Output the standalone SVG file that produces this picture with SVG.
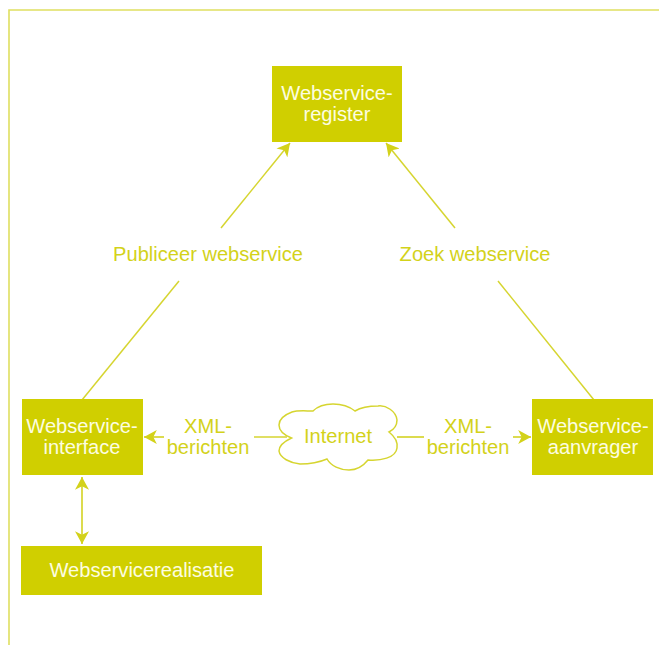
<svg xmlns="http://www.w3.org/2000/svg" width="659" height="645" viewBox="0 0 659 645">
<style>
.box{fill:#d0cf00}
.t{font-family:"Liberation Sans",Arial,sans-serif;font-size:20.1px;text-anchor:middle}
.w{fill:#fdfde0}
.y{fill:#d3d21a}
.c{stroke:#d6d530;stroke-width:1.7;fill:none}
.d{stroke:#d6d530;stroke-width:1.5;fill:none}
</style>
<defs>
<marker id="a" markerUnits="userSpaceOnUse" markerWidth="14" markerHeight="14" refX="11" refY="6" orient="auto-start-reverse" viewBox="0 0 12 12"><path d="M0 0L11 6L0 12L3 6Z" fill="#d3d21a"/></marker>
</defs>
<rect width="659" height="645" fill="#fff"/>
<path d="M9 645V10H659" fill="none" stroke="#dfdf60" stroke-width="1.6"/>
<g id="connectors">
<path class="d" d="M221 228L290 143" marker-end="url(#a)"/>
<path class="d" d="M179 281L82 400"/>
<path class="d" d="M455 228L386 143" marker-end="url(#a)"/>
<path class="d" d="M498 281L594 400"/>
<path class="c" d="M164 437H144" marker-end="url(#a)"/>
<path class="c" d="M254 437H287"/>
<path class="c" d="M397 437H424"/>
<path class="c" d="M513 437H531" marker-end="url(#a)"/>
<path class="c" d="M82 477V544" marker-start="url(#a)" marker-end="url(#a)"/>
</g>
<g id="register"><rect class="box" x="272" y="66" width="130" height="76"/><text class="t w" x="337" y="100">Webservice-</text><text class="t w" x="337" y="121">register</text></g>
<g id="interface"><rect class="box" x="22" y="399" width="121" height="76"/><text class="t w" x="82" y="433">Webservice-</text><text class="t w" x="82" y="454">interface</text></g>
<g id="aanvrager"><rect class="box" x="532" y="399" width="121" height="76"/><text class="t w" x="593" y="433">Webservice-</text><text class="t w" x="593" y="454">aanvrager</text></g>
<g id="realisatie"><rect class="box" x="21" y="546" width="241" height="49"/><text class="t w" x="142" y="577">Webservicerealisatie</text></g>
<g id="internet"><path d="M291.5 438C283 442 279 447 279 451C280 458 290 463 300 464C310 464 320 462 327 459C331 466 340 470 349 470C357 470 364 465 368 460C380 461 396 458 397 448C398 442 394 436 389 432C393 430 397 426 397 420C396 411 386 405 378 406C368 406 360 408 355 411C350 407 342 404 333 404C325 404 317 407 313 411C306 411 298 410 292 412C284 415 279 420 279 425C279 431 284 435 291.5 438Z" fill="#fff" stroke="#d6d530" stroke-width="1.5"/><text class="t y" x="338" y="443">Internet</text></g>
<g id="labels">
<text class="t y" x="208" y="261">Publiceer webservice</text>
<text class="t y" x="475" y="261">Zoek webservice</text>
<text class="t y" x="208" y="433">XML-</text><text class="t y" x="208" y="454">berichten</text>
<text class="t y" x="468" y="433">XML-</text><text class="t y" x="468" y="454">berichten</text>
</g>
</svg>
